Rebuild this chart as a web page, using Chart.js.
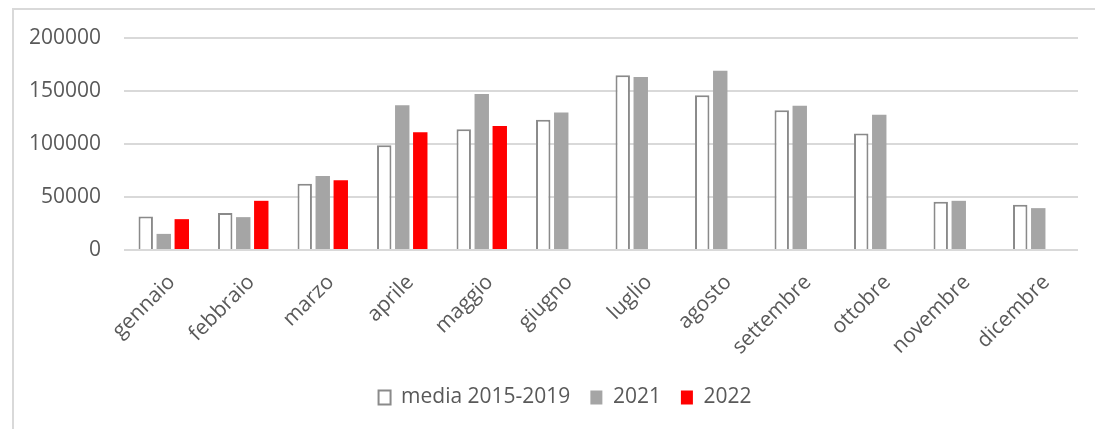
<!DOCTYPE html>
<html>
<head>
<meta charset="utf-8">
<script src="https://cdn.jsdelivr.net/npm/chart.js@4/dist/chart.umd.min.js"></script>
<style>
  html, body { margin: 0; padding: 0; background: #fff; overflow: hidden; }
  #wrap { position: relative; width: 1095px; height: 429px; }
  #frame { position: absolute; left: 12px; top: 8px; width: 1200px; height: 600px; border: 2px solid #d9d9d9; box-sizing: border-box; }
  #chartMonths { position: absolute; left: 0; top: 0; }
</style>
</head>
<body>
<div id="wrap">
  <div id="frame"></div>
  <canvas id="chartMonths" width="1095" height="429"></canvas>
</div>
<script>
const months = ['gennaio', 'febbraio', 'marzo', 'aprile', 'maggio', 'giugno', 'luglio', 'agosto', 'settembre', 'ottobre', 'novembre', 'dicembre'];
const media1519 = [31600, 35000, 62600, 98900, 114000, 122900, 164900, 146000, 131800, 110000, 45500, 42700];
const year2021 = [15200, 31000, 69900, 136500, 147200, 129600, 163300, 169000, 136200, 127700, 46400, 39500];
const year2022 = [29100, 46400, 65700, 111200, 116900, null, null, null, null, null, null, null];
const yTicks = [0, 50000, 100000, 150000, 200000];

const textColor = '#595959';
const gridColor = '#d9d9d9';
const fontFamily = '"Open Sans", sans-serif';

// legend is centred a bit to the right in the original
const legendShift = {
  id: 'legendShift',
  afterLayout: (chart) => { chart.legend.left += 24; }
};

let ctx = document.getElementById('chartMonths').getContext('2d');

new Chart(ctx, {
  type: 'bar',
  data: {
    labels: months,
    datasets: [
      {
        label: 'media 2015-2019',
        data: media1519,
        backgroundColor: '#ffffff',
        borderColor: '#8a8a8a',
        borderWidth: 2
      },
      {
        label: '2021',
        data: year2021,
        backgroundColor: '#a5a5a5',
        borderWidth: 0
      },
      {
        label: '2022',
        data: year2022,
        backgroundColor: '#ff0000',
        borderWidth: 0
      }
    ]
  },
  plugins: [legendShift],
  options: {
    responsive: false,
    animation: false,
    barPercentage: 0.8,
    categoryPercentage: 0.68,
    layout: {
      padding: { left: 28, right: 17, top: 38, bottom: 11 }
    },
    plugins: {
      tooltip: { enabled: false },
      legend: {
        position: 'bottom',
        labels: {
          color: textColor,
          font: { family: fontFamily, size: 21 },
          boxWidth: 12,
          boxHeight: 14,
          padding: 20
        }
      }
    },
    scales: {
      x: {
        grid: { display: false },
        border: { display: false },
        ticks: {
          color: textColor,
          font: { family: fontFamily, size: 21 },
          minRotation: 45,
          maxRotation: 45,
          labelOffset: 8,
          padding: 12
        },
        afterFit: (scale) => { scale.height = 117; }
      },
      y: {
        min: 0,
        max: 200000,
        border: { display: false },
        grid: { color: gridColor, lineWidth: 2, drawTicks: false },
        afterBuildTicks: (scale) => { scale.ticks = yTicks.map(v => ({ value: v })); },
        ticks: {
          color: textColor,
          font: { family: fontFamily, size: 21 },
          padding: 23,
          callback: (value) => String(value)
        },
        afterFit: (scale) => { scale.width = 96; }
      }
    }
  }
});
</script>
</body>
</html>
